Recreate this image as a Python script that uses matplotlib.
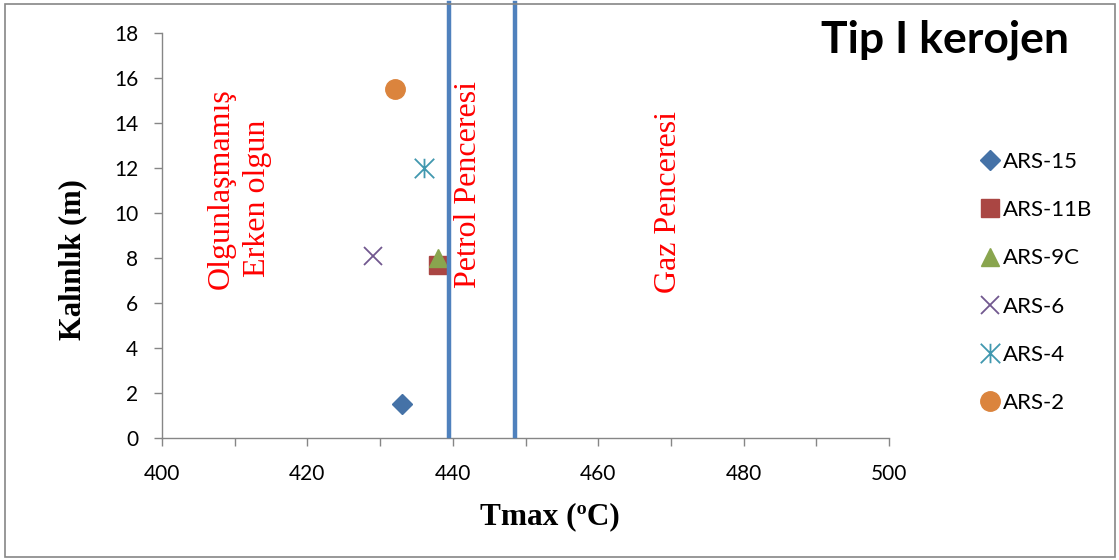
import matplotlib
matplotlib.use("Agg")
import matplotlib.pyplot as plt
from matplotlib.path import Path
from matplotlib.patches import Rectangle

# ---- data ----
series = ["ARS-15", "ARS-11B", "ARS-9C", "ARS-6", "ARS-4", "ARS-2"]
tmax = [433, 438, 438, 429, 436, 432]
thickness = [1.5, 7.7, 8.0, 8.1, 12.0, 15.5]
colors = ["#4572A7", "#AA4643", "#89A54E", "#71588F", "#4198AF", "#DB843D"]
window_bounds = [439.5, 448.6]
zone_labels = ["Olgunlaşmamış", "Erken olgun", "Petrol Penceresi", "Gaz Penceresi"]
x_ticks = [400, 420, 440, 460, 480, 500]
y_ticks = [0, 2, 4, 6, 8, 10, 12, 14, 16, 18]

W, H = 1119, 560
fig = plt.figure(figsize=(W / 100, H / 100), dpi=100)
ax = fig.add_axes([162 / W, 1 - 438 / H, (889 - 162) / W, (438 - 33) / H])

star_path = Path(
    [(-0.5, -0.5), (0.5, 0.5), (-0.5, 0.5), (0.5, -0.5), (0, -0.5), (0, 0.5)],
    [Path.MOVETO, Path.LINETO, Path.MOVETO, Path.LINETO, Path.MOVETO, Path.LINETO],
)
styles = [
    dict(marker="D", ms=10, mec=colors[0], mfc=colors[0]),
    dict(marker="s", ms=12.5, mec=colors[1], mfc=colors[1]),
    dict(marker="^", ms=13, mec=colors[2], mfc=colors[2]),
    dict(marker="x", ms=13, mec=colors[3], mew=1.3),
    dict(marker=star_path, ms=14, mec=colors[4], mew=1.3, mfc="none"),
    dict(marker="o", ms=14, mec=colors[5], mfc=colors[5]),
]
for name, x, y, st in zip(series, tmax, thickness, styles):
    ax.plot([x], [y], linestyle="none", label=name, zorder=3, **st)

for xb in window_bounds:
    ax.axvline(xb, ymin=0.005, ymax=(438 - 3) / 405, color="#4F81BD", lw=3.2,
               clip_on=False, zorder=4)

ax.set_xlim(400, 500)
ax.set_ylim(0, 18)
ax.set_xticks(x_ticks)
ax.set_xticks(range(400, 501, 10), minor=True)
ax.set_yticks(y_ticks)
for s in ["top", "right"]:
    ax.spines[s].set_visible(False)
for s in ["left", "bottom"]:
    ax.spines[s].set_color("#868686")
    ax.spines[s].set_linewidth(1.0)
ax.tick_params(axis="both", which="both", length=6, width=1.0, color="#868686",
               direction="out")
ax.tick_params(axis="x", which="major", pad=13)
ax.tick_params(axis="y", which="major", pad=11)
for lab in ax.get_xticklabels() + ax.get_yticklabels():
    lab.set_fontfamily("Lato")
    lab.set_fontsize(15)

serif = "Liberation Serif"
fig.text(73 / W, 1 - 260 / H, "Kalınlık (m)", rotation=90, ha="center", va="center",
         fontfamily=serif, fontweight="bold", fontsize=22)
fig.text(550 / W, 1 - 517 / H, "Tmax (ºC)", ha="center", va="center",
         fontfamily=serif, fontweight="bold", fontsize=22.5)

fig.text(221 / W, 1 - 189 / H, zone_labels[0], rotation=90, ha="center", va="center",
         fontfamily=serif, fontsize=23, color="#FF0000")
fig.text(257 / W, 1 - 198 / H, zone_labels[1], rotation=90, ha="center", va="center",
         fontfamily=serif, fontsize=23, color="#FF0000")
fig.text(469 / W, 1 - 185 / H, zone_labels[2], rotation=90, ha="center", va="center",
         fontfamily=serif, fontsize=23, color="#FF0000")
fig.text(668 / W, 1 - 202 / H, zone_labels[3], rotation=90, ha="center", va="center",
         fontfamily=serif, fontsize=23, color="#FF0000")

fig.text(945 / W, 1 - 40 / H, "Tip I kerojen", ha="center", va="center",
         fontfamily="Lato", fontweight="bold", fontsize=32)

leg = fig.legend(loc="upper left", bbox_to_anchor=(981 / W, 1 - 152 / H),
                 frameon=False, prop={"family": "Lato", "size": 16},
                 handlelength=0.8, handletextpad=0.2, labelspacing=1.27,
                 borderaxespad=0, borderpad=0, numpoints=1)

fig.patches.append(Rectangle((5 / W, 3 / H), 1110 / W, 553 / H, transform=fig.transFigure,
                             fill=False, edgecolor="#868686", lw=1.2))

fig.savefig("out.png", dpi=100)
